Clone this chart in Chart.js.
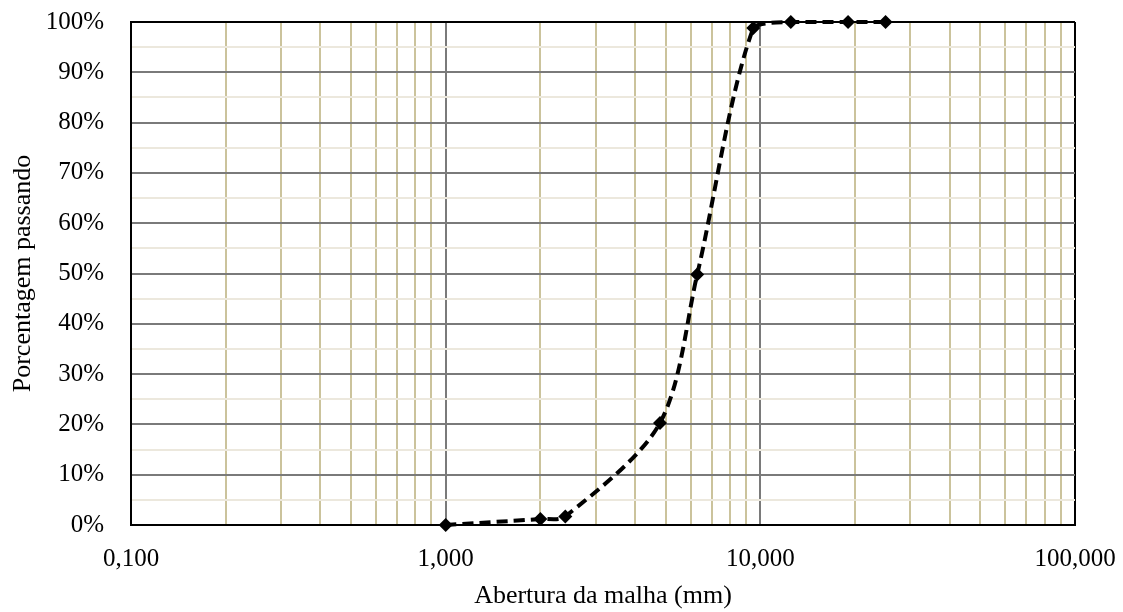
<!DOCTYPE html>
<html>
<head>
<meta charset="utf-8">
<script src="https://cdn.jsdelivr.net/npm/chart.js@4/dist/chart.umd.min.js"></script>
<style>
  html, body { margin: 0; padding: 0; background: #fff; }
  #wrap { width: 1123px; height: 612px; }
</style>
</head>
<body>
<div id="wrap"><canvas id="curva"></canvas></div>
<script>
// Curva granulométrica: abertura da peneira (mm) x porcentagem passante
const aberturas = [1.0, 2.0, 2.4, 4.8, 6.3, 9.5, 12.5, 19, 25];
const passante = [0, 1.2, 1.7, 20.3, 49.8, 98.8, 100, 100, 100];

// Ticks of the log axis (one per unit of each decade) and labelled decades
const xTicks = [0.1, 0.2, 0.3, 0.4, 0.5, 0.6, 0.7, 0.8, 0.9,
                1, 2, 3, 4, 5, 6, 7, 8, 9,
                10, 20, 30, 40, 50, 60, 70, 80, 90, 100];
const xLabels = { 0.1: '0,100', 1: '1,000', 10: '10,000', 100: '100,000' };
const yTicks = [0, 5, 10, 15, 20, 25, 30, 35, 40, 45, 50, 55, 60, 65, 70, 75, 80, 85, 90, 95, 100];

const family = '"Liberation Serif", "Times New Roman", serif';
const tickFont = { family: family, size: 25 };
const titleFont = { family: family, size: 26 };

const isDecade = v => Math.abs(Math.log10(v) - Math.round(Math.log10(v))) < 1e-9;

new Chart(document.getElementById('curva'), {
  type: 'line',
  data: {
    datasets: [{
      data: aberturas.map((x, i) => ({ x: x, y: passante[i] })),
      borderColor: '#000',
      borderWidth: 4,
      borderDash: [11, 6],
      tension: 0.3,
      pointStyle: 'rectRot',
      pointRadius: 7,
      pointBackgroundColor: '#000',
      pointBorderColor: '#000',
      pointBorderWidth: 0,
      clip: false
    }]
  },
  options: {
    responsive: true,
    maintainAspectRatio: false,
    animation: false,
    layout: { padding: { top: 22, right: 48, left: 0, bottom: 0 } },
    plugins: { legend: { display: false }, tooltip: { enabled: false } },
    scales: {
      x: {
        type: 'logarithmic',
        min: 0.1,
        max: 100,
        afterBuildTicks: s => { s.ticks = xTicks.map(v => ({ value: v })); },
        afterFit: s => { s.height = 87; s.paddingLeft = 0; s.paddingRight = 0; },
        ticks: {
          autoSkip: false,
          maxRotation: 0,
          padding: 19,
          color: '#000',
          font: tickFont,
          callback: v => xLabels[v] || ''
        },
        grid: {
          drawTicks: false,
          color: c => {
            const v = c.tick.value;
            if (v >= 100) return '#000';
            return isDecade(v) ? '#7a7a7a' : '#cbc39c';
          },
          lineWidth: 2
        },
        border: { display: true, color: '#000', width: 2 },
        title: {
          display: true,
          text: 'Abertura da malha (mm)',
          color: '#000',
          font: titleFont,
          padding: { top: 0, bottom: 0 }
        }
      },
      y: {
        type: 'linear',
        min: 0,
        max: 100,
        afterBuildTicks: s => { s.ticks = yTicks.map(v => ({ value: v })); },
        afterFit: s => { s.width = 131; s.paddingTop = 0; s.paddingBottom = 0; },
        ticks: {
          autoSkip: false,
          padding: 27,
          color: '#000',
          font: tickFont,
          callback: v => (v % 10 === 0 ? v + '%' : '')
        },
        grid: {
          drawTicks: false,
          color: c => {
            const v = c.tick.value;
            if (v >= 100) return '#000';
            return v % 10 === 0 ? '#7a7a7a' : '#ece8dd';
          },
          lineWidth: 2
        },
        border: { display: true, color: '#000', width: 2 },
        title: {
          display: true,
          text: 'Porcentagem passando',
          color: '#000',
          font: titleFont,
          padding: { top: 8, bottom: 0 }
        }
      }
    }
  }
});
</script>
</body>
</html>
